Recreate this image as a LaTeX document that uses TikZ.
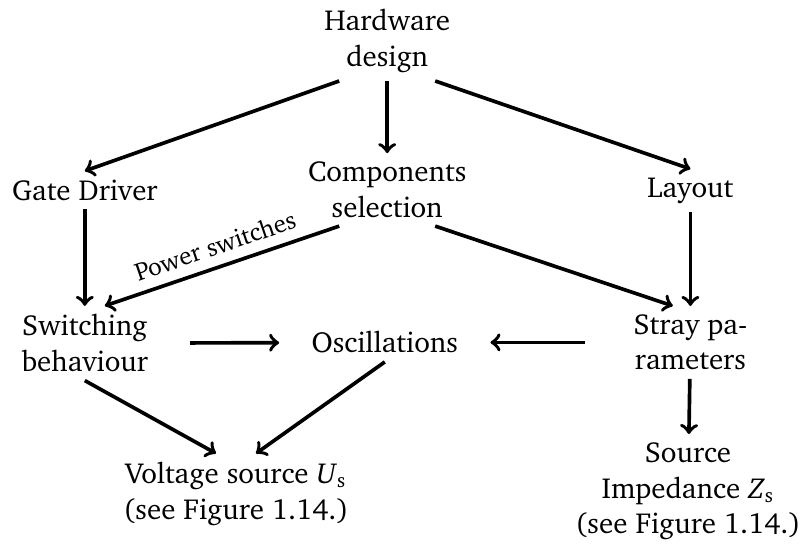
\documentclass[tikz,border=0pt]{standalone}
\IfFileExists{charter.sty}{%
  \usepackage[T1]{fontenc}
  \usepackage{charter}
}{%
  \usepackage{fontspec}
  \setmainfont{Liberation Serif}
}
\usepackage{tikz}
\usetikzlibrary{positioning, calc}

\newcommand{\Us}{\textit{U}\textsubscript{s}}
\newcommand{\Zs}{\textit{Z}\textsubscript{s}}

\begin{document}
\begin{tikzpicture}[
    block/.style={align=center, inner sep=0.1cm, font=\fontsize{10.3}{12.7}\selectfont},
    arrow/.style={->, line width=1.3pt},
    harrow/.style={arrow, shorten <=0.42cm, shorten >=0.3cm}
]
\useasboundingbox (0,0) rectangle (10.05,-6.8);

% Top
\node[block] (hw) at (4.84,-0.51) {Hardware\\design};

% Design parts
\node[block] (gd) at (1.06,-2.375) {Gate Driver};
\node[block] (comp) at (4.84,-2.37) {Components\\selection};
\node[block] (layout) at (8.63,-2.38) {Layout};

% Effects
\node[block] (sw) at (1.06,-4.29) {Switching\\behaviour};
\node[block] (osc) at (4.81,-4.28) {Oscillations};
\node[block] (stray) at (8.63,-4.28) {Stray pa-\\rameters};

% Sources
\node[block] (vs) at (2.95,-6.17) {Voltage source \Us\\(see Figure 1.14.)};
\node[block] (si) at (8.6,-6.14) {Source\\Impedance \Zs\\(see Figure 1.14.)};

% Arrows
\draw[arrow] ([xshift=-0.6cm]hw.south) -- (gd.north);
\draw[arrow] (hw) -- (comp);
\draw[arrow] ([xshift=0.6cm]hw.south) -- (layout.north);
\draw[arrow] (gd) -- (sw);
\draw[arrow] ([xshift=-0.6cm]comp.south) -- node[midway, above, sloped, font=\small, inner sep=3.5pt] (ps) {Power switches} ([xshift=0.25cm]sw.north);
\draw[arrow] ([xshift=0.6cm]comp.south) -- ([xshift=-0.22cm]stray.north);
\draw[arrow] (layout) -- (stray);
\draw[harrow] (sw) -- (osc);
\draw[harrow, shorten <=0.5cm] (stray) -- (osc);
\draw[arrow] (sw.south) -- ([xshift=-0.25cm]vs.north);
\draw[arrow] (osc.south) -- ([xshift=0.25cm]vs.north);
\draw[arrow] (stray) -- (si);

\end{tikzpicture}
\end{document}
